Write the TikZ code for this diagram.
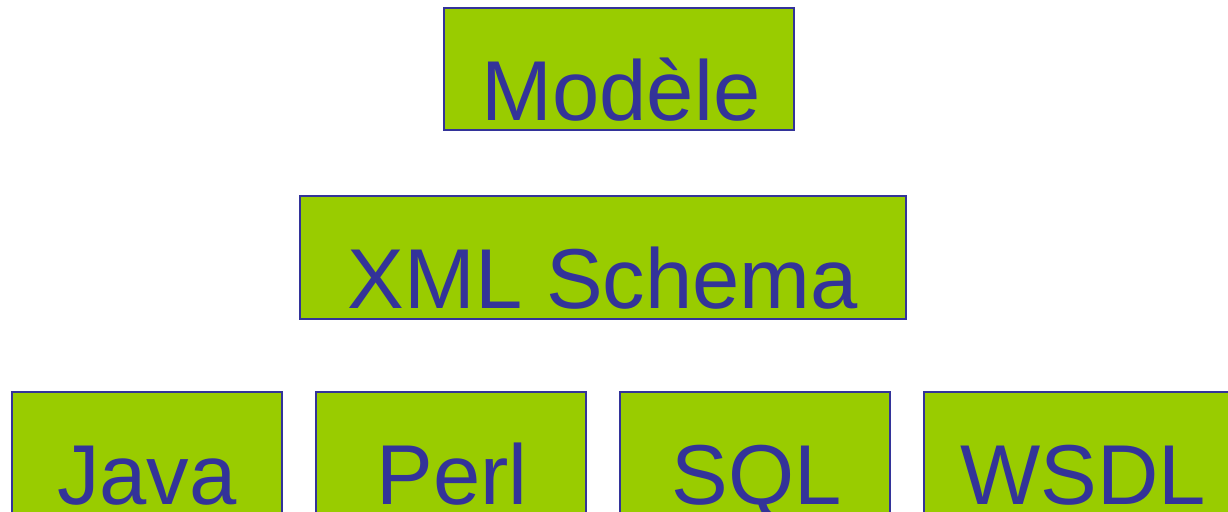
\documentclass[tikz,border=0pt]{standalone}
\usepackage{fontspec}
\setmainfont{Liberation Sans}
\definecolor{boxfill}{HTML}{99CC00}
\definecolor{boxline}{HTML}{333399}
\begin{document}
\begin{tikzpicture}[x=1pt,y=-1pt,
  block/.style={fill=boxfill,draw=boxline,line width=2pt},
  label/.style={anchor=base,text=boxline,inner sep=0pt,font=\fontsize{85}{85}\selectfont}]
\useasboundingbox (0,0) rectangle (1228,511);
\begin{scope}
\clip (0,0) rectangle (1228,511);
% top level
\draw[block] (444,8) rectangle (794,130);
\node[label] (modele) at (621,120) {Modèle};
% schema level
\draw[block] (300,196) rectangle (906,319);
\node[label] (schema) at (603,308) {XML Schema};
% generated targets
\draw[block] (12,392) rectangle (282,530);
\node[label] (java) at (147,504) {Java};
\draw[block] (316,392) rectangle (586,530);
\node[label] (perl) at (452,504) {Perl};
\draw[block] (620,392) rectangle (890,530);
\node[label] (sql) at (757,504) {SQL};
\draw[block] (924,392) rectangle (1240,530);
\node[label] (wsdl) at (1083,504) {WSDL};
\end{scope}
\end{tikzpicture}
\end{document}
